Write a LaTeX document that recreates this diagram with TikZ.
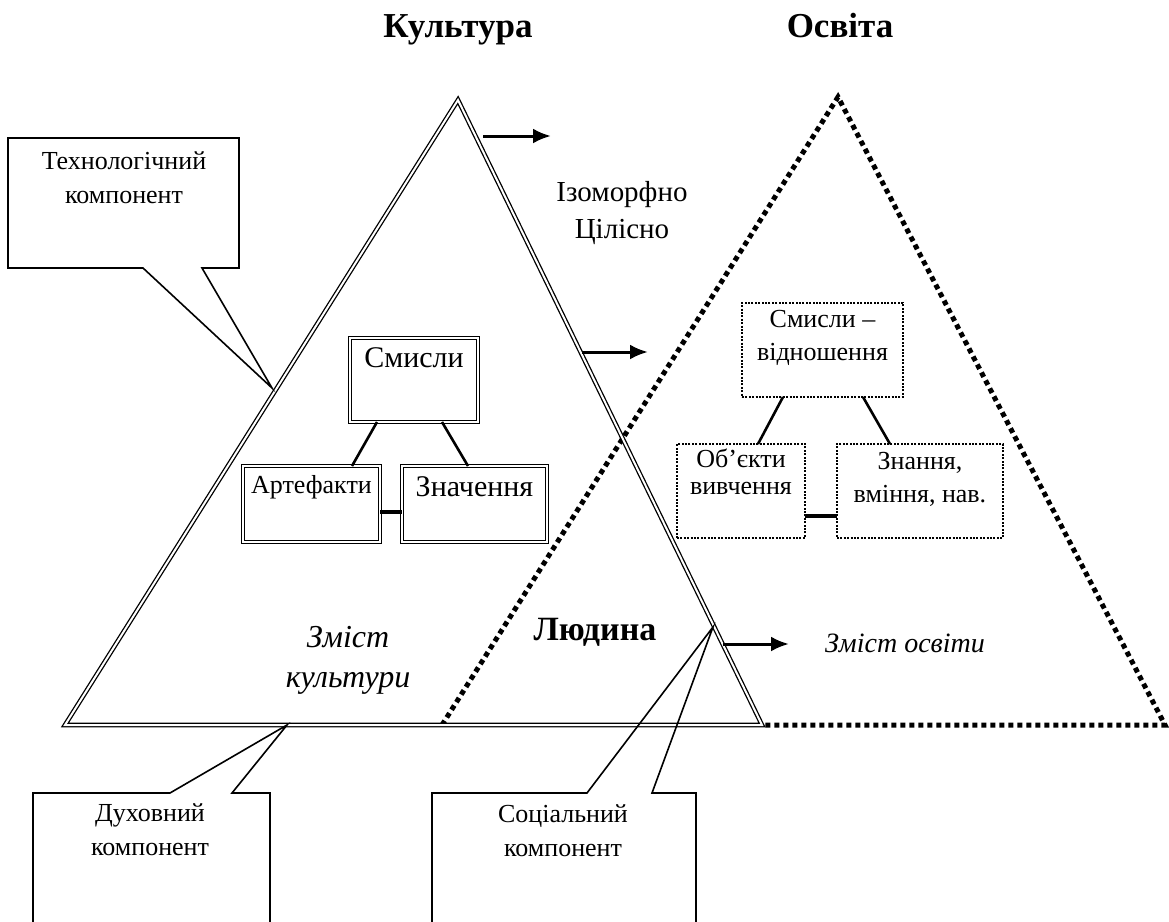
\documentclass[tikz,border=0pt]{standalone}
\usepackage{fontspec}
\setmainfont{Liberation Serif}
\usetikzlibrary{arrows.meta,calc}
\newcommand{\bxt}[4]{\parbox[c][#2][t]{#1}{\centering\vspace*{#3}#4}}
\begin{document}
\begin{tikzpicture}[x=0.5pt,y=-0.5pt,
  dbl/.style={draw, double, double distance=1pt, line width=0.65pt},
  dblbox/.style={draw, double, double distance=1pt, line width=0.65pt, inner sep=0pt, outer sep=0pt, anchor=north west},
  dotln/.style={line width=2.5pt, dash pattern=on 2.5pt off 2pt},
  dotbox/.style={draw, line width=1.3pt, dash pattern=on 1pt off 0.7pt, inner sep=0pt, outer sep=0pt, anchor=north west},
  conn/.style={line width=1.3pt},
  call/.style={line width=0.8pt, line join=miter},
  arr/.style={line width=1.5pt, -{Latex[length=9pt,width=7.5pt]}},
  txt/.style={font=\fontsize{13}{17}\selectfont, align=center, inner sep=0pt},
  ttl/.style={font=\fontsize{17.5}{20}\selectfont\bfseries, inner sep=0pt, anchor=base}
]
\useasboundingbox (0,0) rectangle (1169,922);

% titles
\node[ttl] (kult) at (458,37) {Культура};
\node[ttl] (osv) at (840,37) {Освіта};

% dotted triangle
\coordinate (R1) at (442,725);
\coordinate (R2) at (838,97);
\coordinate (R3) at (1165,725);
% double triangle
\coordinate (L1) at (65,725);
\coordinate (L2) at (458,100);
\coordinate (L3) at (762,725);
\draw[dotln] (R1) -- (R2) -- (R3) -- (L3);
\draw[dbl] (L1) -- (L2) -- (L3) -- cycle;

% callouts
\draw[call] (8,138) -- (239,138) -- (239,268) -- (202,268) -- (272,388) -- (143,268) -- (8,268) -- cycle;
\node[txt] (tech) at (124,178) {Технологічний\\компонент};
\draw[call] (33,935) -- (33,793) -- (170,793) -- (287,725) -- (232,793) -- (270,793) -- (270,935);
\node[txt] (duh) at (150,830) {Духовний\\компонент};
\draw[call] (432,935) -- (432,793) -- (587,793) -- (713,627) -- (652,793) -- (696,793) -- (696,935);
\node[txt] (soc) at (563,831) {Соціальний\\компонент};

% left inner boxes
\node[dblbox, font=\fontsize{15}{18}\selectfont] (smL) at (350,338) {\bxt{64pt}{42pt}{5pt}{Смисли}};
\node[dblbox, font=\fontsize{13}{16}\selectfont] (artL) at (243,466) {\bxt{68.5pt}{38pt}{4.5pt}{Артефакти}};
\node[dblbox, font=\fontsize{15}{18}\selectfont] (znL) at (402,466) {\bxt{72.5pt}{38pt}{5.5pt}{Значення}};
\draw[conn] ($(smL.south west)+(27,0)$) -- ($(artL.north west)+(109,0)$);
\draw[conn] ($(smL.south west)+(92,0)$) -- ($(znL.north west)+(66,0)$);
\draw[conn, line width=1.6pt] ($(artL.east)+(0,8)$) -- ($(znL.west)+(0,8)$);

% right inner boxes
\node[dotbox, font=\fontsize{13}{16.5}\selectfont] (smR) at (742,303) {\bxt{80.5pt}{47pt}{3.5pt}{Смисли –\\відношення}};
\node[dotbox, font=\fontsize{13}{13.5}\selectfont] (obR) at (677,444) {\bxt{64pt}{47pt}{2.5pt}{Об’єкти\\вивчення}};
\node[dotbox, font=\fontsize{13}{16.5}\selectfont] (znR) at (837,444) {\bxt{83pt}{47pt}{4pt}{Знання,\\вміння, нав.}};
\draw[conn] ($(smR.south west)+(41,0)$) -- ($(obR.north west)+(81,0)$);
\draw[conn] ($(smR.south west)+(121,0)$) -- ($(znR.north west)+(53,0)$);
\draw[conn, line width=1.6pt] ($(obR.east)+(0,25)$) -- ($(znR.west)+(0,25)$);

% arrows
\coordinate (a1s) at (483,136);
\coordinate (a1e) at (551,136);
\coordinate (a2s) at (582,352);
\coordinate (a2e) at (648,352);
\coordinate (a3s) at (723,644);
\coordinate (a3e) at (789,644);
\draw[arr] (a1s) -- (a1e);
\draw[arr] (a2s) -- (a2e);
\draw[arr] (a3s) -- (a3e);

% texts
\node[txt, font=\fontsize{14.5}{18.5}\selectfont] (iso) at (622,213) {Ізоморфно\\Цілісно};
\node[txt, font=\fontsize{16}{20}\selectfont\itshape] (zk) at (348,660) {Зміст\\культури};
\node[ttl, font=\fontsize{17}{20}\selectfont\bfseries, anchor=center] (lud) at (595,632) {Людина};
\node[txt, font=\fontsize{14}{17}\selectfont\itshape] (zo) at (905,643) {Зміст освіти};
\end{tikzpicture}
\end{document}
